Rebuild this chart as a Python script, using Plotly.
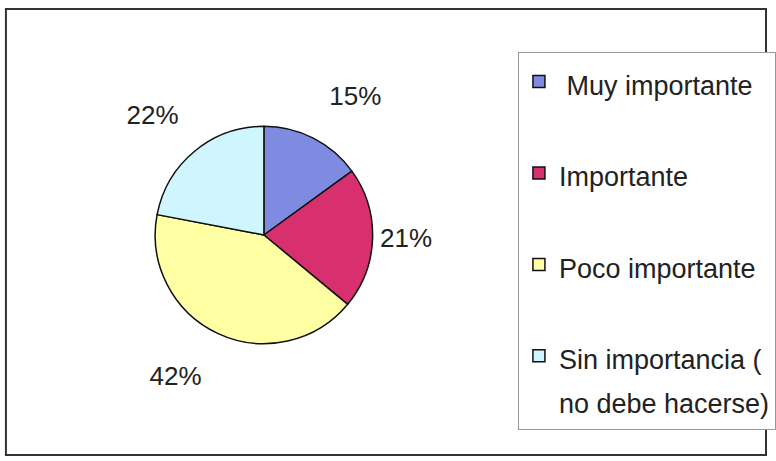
import plotly.graph_objects as go

categories = ["Muy importante", "Importante", "Poco importante", "Sin importancia (\nno debe hacerse)"]
values = [15, 21, 42, 22]
colors = ["#7f8be0", "#d8306f", "#ffffa3", "#cff5ff"]

W, H = 776, 461
FONT = "Liberation Sans, Arial, sans-serif"
LEG_PX = 27


def legend_label(cat, first=False):
    lines = cat.split("\n")
    if first:
        lines[0] = "\u00a0" + lines[0]
    parts = [f"<span style='font-size:{LEG_PX}px'>{ln}</span>" for ln in lines]
    if len(parts) < 2:
        parts.append(f"<span style='font-size:{LEG_PX}px'>\u00a0</span>")
    return "<br>".join(parts)


labels = [legend_label(c, i == 0) for i, c in enumerate(categories)]

# percent labels sit a bit farther from the pie in the original: pad with a blank line
pad_below = "%{value}%<br>\u00a0"
pad_above = "\u00a0<br>%{value}%"
templates = [pad_below, "%{value}%", pad_above, pad_below]

cx, cy, r = 267, 235, 110

fig = go.Figure(
    go.Pie(
        labels=labels,
        values=values,
        sort=False,
        direction="clockwise",
        rotation=0,
        marker=dict(colors=colors, line=dict(color="#111111", width=1.5)),
        texttemplate=templates,
        textposition="outside",
        outsidetextfont=dict(size=26, color="#222222", family=FONT),
        domain=dict(x=[(cx - r) / W, (cx + r) / W], y=[1 - (cy + r) / H, 1 - (cy - r) / H]),
        hoverinfo="skip",
    )
)

fig.update_layout(
    width=W,
    height=H,
    margin=dict(l=0, r=0, t=0, b=0),
    paper_bgcolor="white",
    plot_bgcolor="white",
    font=dict(family=FONT, color="#222222"),
    showlegend=True,
    legend=dict(
        x=524 / W,
        y=1 - 52 / H,
        xanchor="left",
        yanchor="top",
        bordercolor="#999999",
        borderwidth=1,
        bgcolor="white",
        font=dict(size=34, family=FONT, color="#222222"),
        valign="top",
        itemwidth=30,
    ),
    shapes=[
        dict(
            type="rect",
            xref="paper",
            yref="paper",
            x0=6 / W,
            x1=775 / W,
            y0=1 - 455 / H,
            y1=1 - 9 / H,
            line=dict(color="#333333", width=2),
            layer="below",
        )
    ],
)

fig.write_html(
    "out.html",
    config={"displayModeBar": False},
    post_script="document.body.style.margin='0';document.body.style.padding='0';",
)
